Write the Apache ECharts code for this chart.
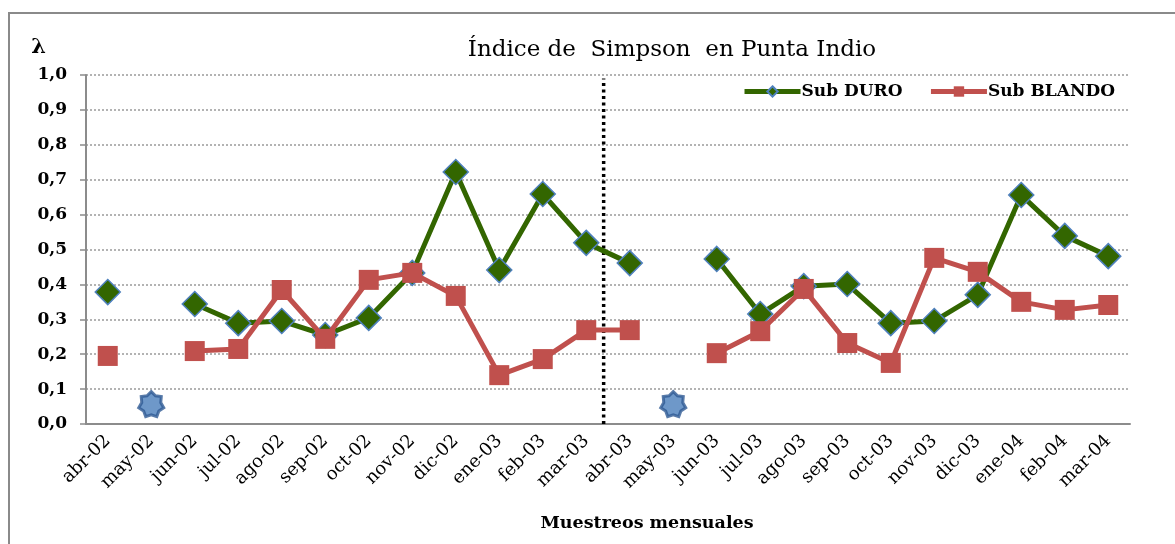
<!DOCTYPE html>
<html>
<head>
<meta charset="utf-8">
<script src="https://cdn.jsdelivr.net/npm/echarts@6/dist/echarts.min.js"></script>
<style>
html,body{margin:0;padding:0;background:#fff;}
#frame{position:absolute;left:8px;top:12px;width:1167px;height:532px;border-left:2px solid #8a8a8a;border-top:2px solid #8a8a8a;box-sizing:border-box;}
#chart{position:absolute;left:0;top:0;width:1175px;height:544px;}
</style>
</head>
<body>
<div id="frame"></div>
<div id="chart"></div>
<script>
const categories = ['abr-02','may-02','jun-02','jul-02','ago-02','sep-02','oct-02','nov-02','dic-02','ene-03','feb-03','mar-03','abr-03','may-03','jun-03','jul-03','ago-03','sep-03','oct-03','nov-03','dic-03','ene-04','feb-04','mar-04'];
const subDuro = [0.378,null,0.344,0.289,0.295,0.255,0.304,0.433,0.722,0.441,0.659,0.519,0.461,null,0.473,0.315,0.395,0.401,0.289,0.295,0.370,0.656,0.539,0.481];
const subBlando = [0.195,null,0.209,0.215,0.384,0.244,0.413,0.433,0.367,0.140,0.186,0.269,0.269,null,0.203,0.266,0.387,0.232,0.175,0.476,0.436,0.350,0.327,0.341];
const sinDatos = [null,0.057,null,null,null,null,null,null,null,null,null,null,null,0.057,null,null,null,null,null,null,null,null,null,null];
const yTicks = [0,0.1,0.2,0.3,0.4,0.5,0.6,0.7,0.8,0.9,1.0];
const dividerX = 11.9;
const dividerSegment = [[dividerX,0],[dividerX,0.99]];

function starPath(n, rOut, rIn){
  let d = '';
  for(let i=0;i<2*n;i++){
    const r = i%2===0 ? rOut : rIn;
    const a = -Math.PI/2 + i*Math.PI/n;
    const x = (50 + r*Math.cos(a)).toFixed(2), y = (50 + r*Math.sin(a)).toFixed(2);
    d += (i===0?'M':'L') + x + ' ' + y + ' ';
  }
  return 'path://' + d + 'Z';
}
const star7 = starPath(7, 50, 38);

const FONT = '"DejaVu Serif", serif';
const chart = echarts.init(document.getElementById('chart'));
chart.setOption({
  animation:false,
  backgroundColor:'transparent',
  title:{text:'Índice de  Simpson  en Punta Indio',left:667,textAlign:'center',top:34,
    textStyle:{fontFamily:FONT,fontSize:23,fontWeight:'normal',color:'#000'}},
  legend:{right:55,top:78,itemWidth:56,itemHeight:13,itemGap:26,
    data:['Sub DURO','Sub BLANDO'],
    lineStyle:{width:5},
    textStyle:{fontFamily:FONT,fontSize:17,fontWeight:'bold',color:'#000',padding:[0,0,0,-4]}},
  grid:{left:86,right:45,top:75,bottom:120},
  xAxis:[{type:'category',data:categories,boundaryGap:true,
    axisLine:{lineStyle:{color:'#8c8c8c',width:2}},axisTick:{show:false},
    axisLabel:{rotate:45,fontFamily:FONT,fontSize:18,color:'#000',margin:14,interval:0},
    name:'Muestreos mensuales',nameLocation:'middle',nameGap:90,
    nameTextStyle:{fontFamily:FONT,fontSize:17.5,fontWeight:'bold',color:'#000',padding:[0,0,0,78]}},
   {type:'value',min:0,max:24,show:false}],
  yAxis:{type:'value',min:0,max:1,interval:0.1,
    name:'λ',nameLocation:'end',nameGap:17,
    nameTextStyle:{fontFamily:FONT,fontSize:21,fontWeight:'bold',color:'#000',align:'right',padding:[0,40,0,0]},
    axisLine:{show:true,lineStyle:{color:'#8c8c8c',width:2}},
    axisTick:{show:true,inside:false,length:6,lineStyle:{color:'#8c8c8c',width:1.5}},
    axisLabel:{fontFamily:FONT,fontSize:17,fontWeight:'bold',color:'#000',margin:19,
      formatter:v=>v.toFixed(1).replace('.',',')},
    splitLine:{show:true,lineStyle:{color:'#9a9a9a',type:[2,2],width:1.5}}},
  series:[
    {name:'Sub DURO',type:'line',data:subDuro,connectNulls:false,
      symbol:'diamond',symbolSize:25,
      lineStyle:{color:'#336600',width:5},
      itemStyle:{color:'#336600',borderColor:'#4F81BD',borderWidth:1.5},z:3},
    {name:'Sub BLANDO',type:'line',data:subBlando,connectNulls:false,
      symbol:'rect',symbolSize:20,
      lineStyle:{color:'#C0504D',width:5},
      itemStyle:{color:'#C0504D',borderColor:'#C0504D',borderWidth:0},z:4},
    {name:'Sin datos',type:'scatter',data:sinDatos,symbol:star7,symbolSize:25,
      itemStyle:{color:'#4A7EBB',borderColor:'#2F5A94',borderWidth:3},z:5},
    {name:'div',type:'line',xAxisIndex:1,data:dividerSegment,symbol:'none',
      lineStyle:{color:'#000',width:3.5,type:[3,3.5]},z:2,silent:true}
  ]
});
</script>
</body>
</html>
